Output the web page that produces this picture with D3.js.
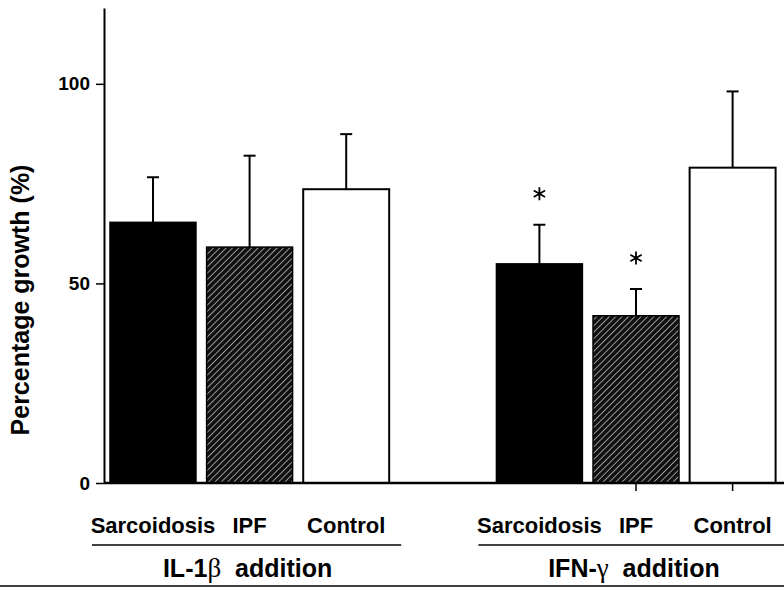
<!DOCTYPE html>
<html>
<head>
<meta charset="utf-8">
<script src="https://cdn.jsdelivr.net/npm/d3@7"></script>
<style>
  body { margin: 0; background: #fff; }
  text { font-family: "Liberation Sans", Arial, sans-serif; }
</style>
</head>
<body>
<div id="chart"></div>
<script>
// data
const groups = ["IL-1β  addition", "IFN-γ  addition"];
const categories = ["Sarcoidosis", "IPF", "Control"];
const il1bMeans = [65.3, 59.1, 73.6];
const il1bErrors = [11.3, 22.9, 13.8];
const ifngMeans = [54.9, 41.9, 79.0];
const ifngErrors = [9.8, 6.7, 19.1];
const ifngSignificant = [true, true, false];
const il1bSignificant = [false, false, false];
const yTicks = [0, 50, 100];

const means = [il1bMeans, ifngMeans];
const errors = [il1bErrors, ifngErrors];
const signif = [il1bSignificant, ifngSignificant];

const w = 784, h = 589;
const fills = ["#000", "url(#hatch)", "#fff"];

const svg = d3.select("#chart").append("svg")
    .attr("width", w)
    .attr("height", h);

// hatch pattern for IPF bars
const pat = svg.append("defs").append("pattern")
    .attr("id", "hatch")
    .attr("patternUnits", "userSpaceOnUse")
    .attr("width", 4.5).attr("height", 4.5)
    .attr("patternTransform", "rotate(45)");
pat.append("rect").attr("width", 4.5).attr("height", 4.5).attr("fill", "#111");
pat.append("line").attr("x1", 2.25).attr("x2", 2.25).attr("y1", 0).attr("y2", 4.5)
    .attr("stroke", "#b5b5b5").attr("stroke-width", 0.8);

const rows = groups.flatMap((g, gi) => categories.map((c, i) => ({
    group: g, gi: gi, cat: c, ci: i,
    key: g + "|" + c,
    mean: means[gi][i], err: errors[gi][i], sig: signif[gi][i]
})));
const keys0 = rows.filter(d => d.gi === 0).map(d => d.key);
const keys1 = rows.filter(d => d.gi === 1).map(d => d.key);

const x = d3.scaleBand()
    .domain([...keys0, "gap", ...keys1])
    .range([110, 775.6])
    .paddingInner(0.11)
    .paddingOuter(0);

const y = d3.scaleLinear().domain([0, 119]).range([483, 8]);

// y axis
const yAxis = svg.append("g")
    .attr("transform", "translate(104,0)")
    .call(d3.axisLeft(y).tickValues(yTicks).tickSize(8).tickPadding(6).tickSizeOuter(0));
yAxis.select(".domain").attr("stroke-width", 2);
yAxis.selectAll(".tick line").attr("stroke-width", 1.5);
yAxis.selectAll(".tick text")
    .style("font-size", "19px").style("font-weight", "bold").attr("fill", "#000");

svg.append("text")
    .attr("transform", "translate(29,300) rotate(-90)")
    .attr("text-anchor", "middle")
    .style("font-size", "25px")
    .style("font-weight", "bold")
    .text("Percentage growth (%)");

// bars
svg.selectAll("rect.bar")
    .data(rows)
    .join("rect")
    .attr("class", "bar")
    .attr("x", d => x(d.key))
    .attr("y", d => y(d.mean))
    .attr("width", x.bandwidth())
    .attr("height", d => y(0) - y(d.mean))
    .attr("fill", d => fills[d.ci])
    .attr("stroke", "#000")
    .attr("stroke-width", d => d.ci === 2 ? 2 : 1.5);

// error bars (upper only)
const eb = svg.selectAll("g.err").data(rows).join("g").attr("class", "err")
    .attr("stroke", "#000").attr("stroke-width", 2);
eb.append("line")
    .attr("x1", d => x(d.key) + x.bandwidth() / 2)
    .attr("x2", d => x(d.key) + x.bandwidth() / 2)
    .attr("y1", d => y(d.mean))
    .attr("y2", d => y(d.mean + d.err));
eb.append("line")
    .attr("x1", d => x(d.key) + x.bandwidth() / 2 - 6)
    .attr("x2", d => x(d.key) + x.bandwidth() / 2 + 6)
    .attr("y1", d => y(d.mean + d.err))
    .attr("y2", d => y(d.mean + d.err));

// significance asterisks
const sigRows = rows.filter(d => d.sig);
if (d3.symbolAsterisk) {
    svg.selectAll("path.star").data(sigRows).join("path")
        .attr("class", "star")
        .attr("d", d3.symbol(d3.symbolAsterisk, 120))
        .attr("transform", d => `translate(${x(d.key) + x.bandwidth() / 2},${y(d.mean + d.err) - 31})`)
        .attr("fill", "none").attr("stroke", "#000").attr("stroke-width", 1.8);
} else {
    svg.selectAll("text.star").data(sigRows).join("text")
        .attr("class", "star")
        .attr("x", d => x(d.key) + x.bandwidth() / 2)
        .attr("y", d => y(d.mean + d.err) - 31 + 22)
        .attr("text-anchor", "middle")
        .style("font-size", "38px")
        .text("*");
}

// baseline
svg.append("line")
    .attr("x1", 104).attr("x2", w)
    .attr("y1", y(0)).attr("y2", y(0))
    .attr("stroke", "#000").attr("stroke-width", 2.5);

// small ticks under the second group
const xAxis = svg.append("g")
    .attr("transform", `translate(0,${y(0) + 1})`)
    .call(d3.axisBottom(x).tickValues(keys1.slice(1)).tickSize(7).tickFormat(""));
xAxis.select(".domain").remove();
xAxis.selectAll(".tick line").attr("stroke-width", 1.5);

// category labels
svg.selectAll("text.cat").data(rows).join("text")
    .attr("class", "cat")
    .attr("x", d => x(d.key) + x.bandwidth() / 2)
    .attr("y", 533)
    .attr("text-anchor", "middle")
    .style("font-size", "22px")
    .style("font-weight", "bold")
    .text(d => d.cat);

// group lines and titles
[keys0, keys1].forEach((ks, gi) => {
    const x0 = x(ks[0]), x1 = x(ks[ks.length - 1]) + x.bandwidth();
    svg.append("line")
        .attr("x1", x0 - 18).attr("x2", Math.min(w, x1 + 12))
        .attr("y1", 545).attr("y2", 545)
        .attr("stroke", "#000").attr("stroke-width", 1.5);

    const parts = groups[gi].match(/^(.*?)([α-ω])(.*)$/);
    const t = svg.append("text")
        .attr("x", (x0 + x1) / 2 - 2)
        .attr("y", 577)
        .attr("text-anchor", "middle")
        .style("font-size", "25px")
        .style("font-weight", "bold")
        .style("white-space", "pre");
    t.append("tspan").text(parts[1]);
    t.append("tspan")
        .style("font-family", "'Liberation Serif', 'DejaVu Serif', serif")
        .style("font-weight", "normal")
        .style("font-size", "27px")
        .text(parts[2]);
    t.append("tspan").text(parts[3]);
});

// bottom rule
svg.append("line")
    .attr("x1", 0).attr("x2", w)
    .attr("y1", 586).attr("y2", 586)
    .attr("stroke", "#000").attr("stroke-width", 1.5);
</script>
</body>
</html>
